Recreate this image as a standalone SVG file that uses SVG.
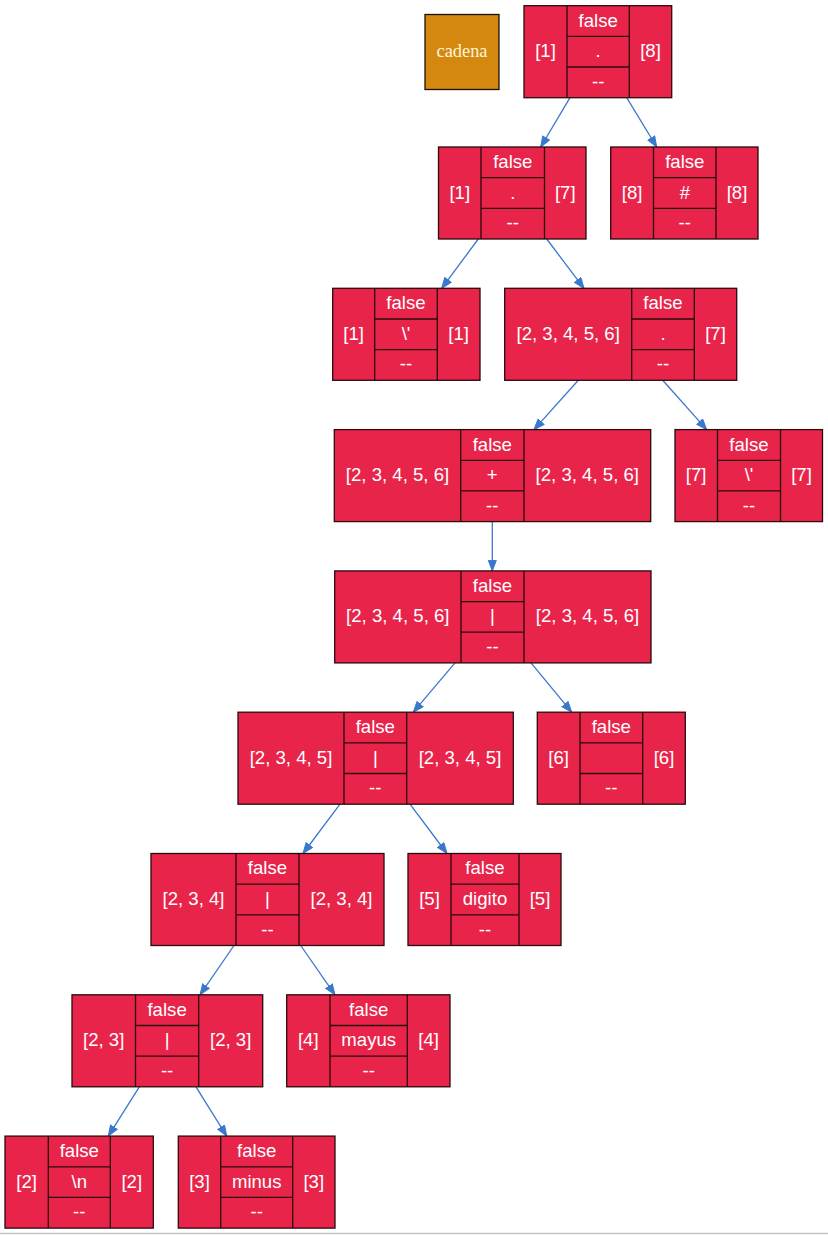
<svg xmlns="http://www.w3.org/2000/svg" width="828" height="1235" viewBox="0 0 828 1235">
<style>
.c{fill:#E8244B;stroke:#2a0a0c;stroke-width:1.3}
.d{stroke:#2a0a0c;stroke-width:1.3;fill:none}
.t{font-family:"Liberation Sans",Arial,sans-serif;font-size:18.6px;fill:#ffffff;text-anchor:middle}
.e{stroke:#3A78CC;stroke-width:1.3;fill:none}
.k{fill:#D4880F;stroke:#1a1208;stroke-width:1.3}
.kt{font-family:"Liberation Serif","Times New Roman",serif;font-size:18.4px;fill:#FFF6D6;text-anchor:middle}
</style>
<defs>
<marker id="ah" markerUnits="userSpaceOnUse" markerWidth="12" markerHeight="10" refX="11" refY="4.5" orient="auto">
<path d="M0.5,0.5 L11,4.5 L0.5,8.5 z" fill="#3A78CC" stroke="#3A78CC" stroke-width="1"/>
</marker>
</defs>
<rect width="828" height="1235" fill="#ffffff"/>
<line x1="0" y1="1233.5" x2="828" y2="1233.5" stroke="#c4c4c4" stroke-width="1.5"/>

<g id="connectors">
<line class="e" marker-end="url(#ah)" x1="570" y1="97.7" x2="540.7" y2="147"/>
<line class="e" marker-end="url(#ah)" x1="626.7" y1="97.7" x2="656.7" y2="147"/>
<line class="e" marker-end="url(#ah)" x1="478.3" y1="239" x2="441.7" y2="288.3"/>
<line class="e" marker-end="url(#ah)" x1="546.7" y1="239" x2="584" y2="288.3"/>
<line class="e" marker-end="url(#ah)" x1="578.3" y1="380.3" x2="534" y2="429.6"/>
<line class="e" marker-end="url(#ah)" x1="662.7" y1="380.3" x2="706.7" y2="429.6"/>
<line class="e" marker-end="url(#ah)" x1="492.3" y1="521.6" x2="492.3" y2="570.9"/>
<line class="e" marker-end="url(#ah)" x1="455" y1="662.9" x2="413.3" y2="712.2"/>
<line class="e" marker-end="url(#ah)" x1="531" y1="662.9" x2="571.7" y2="712.2"/>
<line class="e" marker-end="url(#ah)" x1="340" y1="804.2" x2="303" y2="853.5"/>
<line class="e" marker-end="url(#ah)" x1="410" y1="804.2" x2="447" y2="853.5"/>
<line class="e" marker-end="url(#ah)" x1="234" y1="945.5" x2="200" y2="994.8"/>
<line class="e" marker-end="url(#ah)" x1="300.7" y1="945.5" x2="335" y2="994.8"/>
<line class="e" marker-end="url(#ah)" x1="139.3" y1="1086.8" x2="108.3" y2="1136.1"/>
<line class="e" marker-end="url(#ah)" x1="196" y1="1086.8" x2="226.7" y2="1136.1"/>
</g>

<g id="cadena">
<rect class="k" x="425" y="14.5" width="74" height="75"/>
<text class="kt" x="462" y="57">cadena</text>
</g>

<g id="n1">
<rect class="c" x="524" y="5.7" width="147.7" height="92"/>
<path class="d" d="M567,5.7V97.7M629.3,5.7V97.7M567,36.4H629.3M567,67H629.3"/>
<text class="t" x="545.5" y="57.2">[1]</text>
<text class="t" x="598.2" y="26.6">false</text>
<text class="t" x="598.2" y="57.2">.</text>
<text class="t" x="598.2" y="87.8">--</text>
<text class="t" x="650.5" y="57.2">[8]</text>
</g>

<g id="n2">
<rect class="c" x="438.5" y="147" width="147.5" height="92"/>
<path class="d" d="M481,147V239M544.5,147V239M481,177.7H544.5M481,208.3H544.5"/>
<text class="t" x="459.8" y="198.5">[1]</text>
<text class="t" x="512.8" y="167.9">false</text>
<text class="t" x="512.8" y="198.5">.</text>
<text class="t" x="512.8" y="229.1">--</text>
<text class="t" x="565.3" y="198.5">[7]</text>
</g>

<g id="n3">
<rect class="c" x="610.7" y="147" width="147.3" height="92"/>
<path class="d" d="M653.5,147V239M716,147V239M653.5,177.7H716M653.5,208.3H716"/>
<text class="t" x="632.1" y="198.5">[8]</text>
<text class="t" x="684.8" y="167.9">false</text>
<text class="t" x="684.8" y="198.5">#</text>
<text class="t" x="684.8" y="229.1">--</text>
<text class="t" x="737" y="198.5">[8]</text>
</g>

<g id="n4">
<rect class="c" x="332.7" y="288.3" width="147.3" height="92"/>
<path class="d" d="M374.7,288.3V380.3M437.3,288.3V380.3M374.7,319H437.3M374.7,349.6H437.3"/>
<text class="t" x="353.7" y="339.8">[1]</text>
<text class="t" x="406" y="309.2">false</text>
<text class="t" x="406" y="339.8">\'</text>
<text class="t" x="406" y="370.4">--</text>
<text class="t" x="458.6" y="339.8">[1]</text>
</g>

<g id="n5">
<rect class="c" x="504.7" y="288.3" width="232" height="92"/>
<path class="d" d="M631.7,288.3V380.3M694.3,288.3V380.3M631.7,319H694.3M631.7,349.6H694.3"/>
<text class="t" x="568.2" y="339.8">[2, 3, 4, 5, 6]</text>
<text class="t" x="663" y="309.2">false</text>
<text class="t" x="663" y="339.8">.</text>
<text class="t" x="663" y="370.4">--</text>
<text class="t" x="715.5" y="339.8">[7]</text>
</g>

<g id="n6">
<rect class="c" x="334.3" y="429.6" width="316.4" height="92"/>
<path class="d" d="M460.7,429.6V521.6M524,429.6V521.6M460.7,460.3H524M460.7,490.9H524"/>
<text class="t" x="397.5" y="481.1">[2, 3, 4, 5, 6]</text>
<text class="t" x="492.3" y="450.5">false</text>
<text class="t" x="492.3" y="481.1">+</text>
<text class="t" x="492.3" y="511.7">--</text>
<text class="t" x="587.3" y="481.1">[2, 3, 4, 5, 6]</text>
</g>

<g id="n7">
<rect class="c" x="675" y="429.6" width="147.5" height="92"/>
<path class="d" d="M717.5,429.6V521.6M780.5,429.6V521.6M717.5,460.3H780.5M717.5,490.9H780.5"/>
<text class="t" x="696.2" y="481.1">[7]</text>
<text class="t" x="749" y="450.5">false</text>
<text class="t" x="749" y="481.1">\'</text>
<text class="t" x="749" y="511.7">--</text>
<text class="t" x="801.5" y="481.1">[7]</text>
</g>

<g id="n8">
<rect class="c" x="334.7" y="570.9" width="316.3" height="92"/>
<path class="d" d="M461,570.9V662.9M524,570.9V662.9M461,601.6H524M461,632.2H524"/>
<text class="t" x="397.8" y="622.4">[2, 3, 4, 5, 6]</text>
<text class="t" x="492.5" y="591.8">false</text>
<text class="t" x="492.5" y="622.4">|</text>
<text class="t" x="492.5" y="653">--</text>
<text class="t" x="587.5" y="622.4">[2, 3, 4, 5, 6]</text>
</g>

<g id="n9">
<rect class="c" x="238" y="712.2" width="275.3" height="92"/>
<path class="d" d="M344,712.2V804.2M406.7,712.2V804.2M344,742.9H406.7M344,773.5H406.7"/>
<text class="t" x="291" y="763.7">[2, 3, 4, 5]</text>
<text class="t" x="375.3" y="733.1">false</text>
<text class="t" x="375.3" y="763.7">|</text>
<text class="t" x="375.3" y="794.3">--</text>
<text class="t" x="460" y="763.7">[2, 3, 4, 5]</text>
</g>

<g id="n10">
<rect class="c" x="537.3" y="712.2" width="148" height="92"/>
<path class="d" d="M580,712.2V804.2M642.7,712.2V804.2M580,742.9H642.7M580,773.5H642.7"/>
<text class="t" x="558.6" y="763.7">[6]</text>
<text class="t" x="611.3" y="733.1">false</text>
<text class="t" x="611.3" y="794.3">--</text>
<text class="t" x="664" y="763.7">[6]</text>
</g>

<g id="n11">
<rect class="c" x="151" y="853.5" width="233" height="92"/>
<path class="d" d="M236,853.5V945.5M299,853.5V945.5M236,884.2H299M236,914.8H299"/>
<text class="t" x="193.5" y="905">[2, 3, 4]</text>
<text class="t" x="267.5" y="874.4">false</text>
<text class="t" x="267.5" y="905">|</text>
<text class="t" x="267.5" y="935.6">--</text>
<text class="t" x="341.5" y="905">[2, 3, 4]</text>
</g>

<g id="n12">
<rect class="c" x="408" y="853.5" width="153" height="92"/>
<path class="d" d="M451,853.5V945.5M519,853.5V945.5M451,884.2H519M451,914.8H519"/>
<text class="t" x="429.5" y="905">[5]</text>
<text class="t" x="485" y="874.4">false</text>
<text class="t" x="485" y="905">digito</text>
<text class="t" x="485" y="935.6">--</text>
<text class="t" x="540" y="905">[5]</text>
</g>

<g id="n13">
<rect class="c" x="72" y="994.8" width="190.7" height="92"/>
<path class="d" d="M135.5,994.8V1086.8M198.7,994.8V1086.8M135.5,1025.5H198.7M135.5,1056.1H198.7"/>
<text class="t" x="103.7" y="1046.3">[2, 3]</text>
<text class="t" x="167.1" y="1015.7">false</text>
<text class="t" x="167.1" y="1046.3">|</text>
<text class="t" x="167.1" y="1076.9">--</text>
<text class="t" x="230.7" y="1046.3">[2, 3]</text>
</g>

<g id="n14">
<rect class="c" x="286.7" y="994.8" width="163.3" height="92"/>
<path class="d" d="M330,994.8V1086.8M407.3,994.8V1086.8M330,1025.5H407.3M330,1056.1H407.3"/>
<text class="t" x="308.3" y="1046.3">[4]</text>
<text class="t" x="368.7" y="1015.7">false</text>
<text class="t" x="368.7" y="1046.3">mayus</text>
<text class="t" x="368.7" y="1076.9">--</text>
<text class="t" x="428.7" y="1046.3">[4]</text>
</g>

<g id="n15">
<rect class="c" x="5" y="1136.1" width="148.3" height="92"/>
<path class="d" d="M48.3,1136.1V1228.1M110.3,1136.1V1228.1M48.3,1166.8H110.3M48.3,1197.4H110.3"/>
<text class="t" x="26.7" y="1187.6">[2]</text>
<text class="t" x="79.3" y="1157">false</text>
<text class="t" x="79.3" y="1187.6">\n</text>
<text class="t" x="79.3" y="1218.2">--</text>
<text class="t" x="131.8" y="1187.6">[2]</text>
</g>

<g id="n16">
<rect class="c" x="178.3" y="1136.1" width="156.7" height="92"/>
<path class="d" d="M220.7,1136.1V1228.1M292.7,1136.1V1228.1M220.7,1166.8H292.7M220.7,1197.4H292.7"/>
<text class="t" x="199.5" y="1187.6">[3]</text>
<text class="t" x="256.7" y="1157">false</text>
<text class="t" x="256.7" y="1187.6">minus</text>
<text class="t" x="256.7" y="1218.2">--</text>
<text class="t" x="313.8" y="1187.6">[3]</text>
</g>
</svg>
